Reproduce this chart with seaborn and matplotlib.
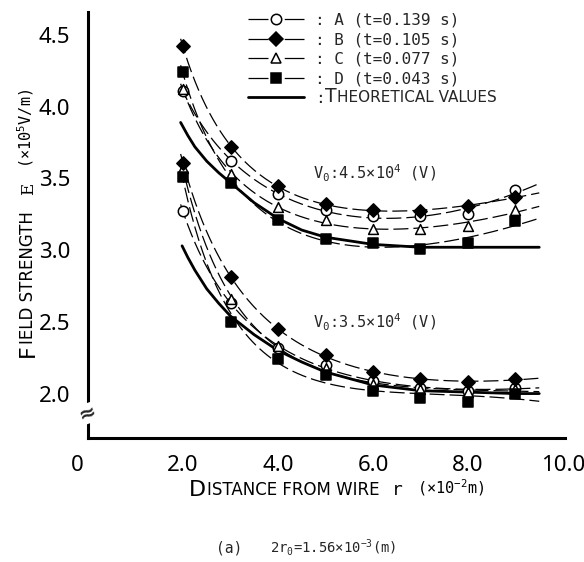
import numpy as np
import matplotlib
matplotlib.use("Agg")
import matplotlib.pyplot as plt
import seaborn as sns
from matplotlib.lines import Line2D
from matplotlib.transforms import ScaledTranslation

# ---- data -----------------------------------------------------------------
r = [2, 3, 4, 5, 6, 7, 8, 9]                      # distance from wire (x1e-2 m)

# V0 = 4.5e4 V
hi_A = [4.11, 3.62, 3.39, 3.28, 3.24, 3.24, 3.25, 3.42]
hi_B = [4.42, 3.72, 3.45, 3.32, 3.28, 3.27, 3.31, 3.37]
hi_C = [4.12, 3.53, 3.30, 3.21, 3.15, 3.15, 3.17, 3.28]
hi_D = [4.24, 3.47, 3.21, 3.08, 3.05, 3.01, 3.05, 3.20]

# V0 = 3.5e4 V
lo_A = [3.27, 2.63, 2.32, 2.20, 2.09, 2.04, 2.02, 2.04]
lo_B = [3.61, 2.81, 2.45, 2.27, 2.15, 2.10, 2.08, 2.10]
lo_C = [3.57, 2.66, 2.33, 2.18, 2.07, 2.03, 2.01, 2.03]
lo_D = [3.51, 2.50, 2.24, 2.13, 2.02, 1.97, 1.94, 2.00]

# theoretical field strength
th_r_hi = [1.95, 2.1, 2.25, 2.5, 2.75, 3.0, 3.5, 4.0, 4.5, 5.0, 6.0, 7.0, 8.0, 9.0, 9.5]
th_hi = [3.89, 3.80, 3.72, 3.62, 3.54, 3.47, 3.33, 3.22, 3.14, 3.09, 3.04, 3.02, 3.02, 3.02, 3.02]
th_r_lo = [1.98, 2.1, 2.25, 2.5, 2.75, 3.0, 3.5, 4.0, 4.5, 5.0, 6.0, 7.0, 8.0, 9.0, 9.5]
th_lo = [3.03, 2.95, 2.86, 2.73, 2.63, 2.54, 2.41, 2.30, 2.22, 2.15, 2.06, 2.02, 2.01, 2.00, 2.00]

series_names = ["A", "B", "C", "D"]
series_times = ["0.139", "0.105", "0.077", "0.043"]
x_tick_vals = [0, 2, 4, 6, 8, 10]
x_tick_text = ["0", "2.0", "4.0", "6.0", "8.0", "10.0"]
y_major_vals = [2.0, 3.0, 4.0]
y_major_text = ["2.0", "3.0", "4.0"]
y_minor_vals = [2.5, 3.5, 4.5]
y_minor_text = ["2.5", "3.5", "4.5"]

# ---- style ----------------------------------------------------------------
sns.set_theme(style="white")
NARROW = ["Noto Sans Condensed", "Liberation Sans Narrow", "Noto Sans", "DejaVu Sans"]
SANS = ["DejaVu Sans"]
MONO = ["DejaVu Sans Mono"]
SERIF = ["DejaVu Serif"]
plt.rcParams["font.family"] = SANS
plt.rcParams["mathtext.fontset"] = "custom"
plt.rcParams["mathtext.rm"] = "DejaVu Sans Mono"
plt.rcParams["mathtext.it"] = "DejaVu Sans Mono"
plt.rcParams["mathtext.bf"] = "DejaVu Sans Mono:bold"

marker_style = {
    "A": dict(marker="o", s=56, facecolor="white"),
    "B": dict(marker="D", s=46, facecolor="black"),
    "C": dict(marker="^", s=50, facecolor="white"),
    "D": dict(marker="s", s=48, facecolor="black"),
}
draw_order = ["A", "C", "B", "D"]
FIT_DASH = (0, (12, 4))

fig = plt.figure(figsize=(5.84, 5.62), dpi=100)
ax = fig.add_axes([0.1507, 0.2206, 0.8174, 0.758])
ax.set_xlim(0, 10.05)
ax.set_ylim(1.69, 4.66)


def fitted(x, y):
    """Least-squares smooth curve E(r) = a + b/r + c r + d r^2."""
    x = np.asarray(x, float)
    y = np.asarray(y, float)
    basis = lambda t: np.column_stack([np.ones_like(t), 1 / t, t, t ** 2])
    coef, *_ = np.linalg.lstsq(basis(x), y, rcond=None)
    grid = np.linspace(1.95, 9.5, 200)
    return grid, basis(grid) @ coef


groups = [
    dict(zip(series_names, [hi_A, hi_B, hi_C, hi_D])),
    dict(zip(series_names, [lo_A, lo_B, lo_C, lo_D])),
]

for grp in groups:
    for name in series_names:
        gx, gy = fitted(r, grp[name])
        sns.lineplot(x=gx, y=gy, ax=ax, color="black", lw=0.9,
                     linestyle=FIT_DASH, sort=False, estimator=None, zorder=2)

sns.lineplot(x=th_r_hi, y=th_hi, ax=ax, color="black", lw=2.0,
             sort=False, estimator=None, zorder=3)
sns.lineplot(x=th_r_lo, y=th_lo, ax=ax, color="black", lw=2.0,
             sort=False, estimator=None, zorder=3)

for grp in groups:
    for name in draw_order:
        st = marker_style[name]
        sns.scatterplot(x=r, y=grp[name], ax=ax, marker=st["marker"], s=st["s"],
                        color="black", facecolor=st["facecolor"],
                        edgecolor="black", linewidth=1.1, zorder=4)

# ---- axes -----------------------------------------------------------------
sns.despine(ax=ax)
for side in ("left", "bottom"):
    ax.spines[side].set_linewidth(2.2)
    ax.spines[side].set_color("black")

ax.set_xticks(x_tick_vals, labels=x_tick_text)
ax.set_yticks(y_major_vals, labels=y_major_text)
ax.set_yticks(y_minor_vals, labels=y_minor_text, minor=True)
ax.tick_params(axis="x", which="major", direction="in", length=7, width=1.8,
               pad=12, labelsize=16, color="black", labelcolor="black")
ax.tick_params(axis="y", which="major", direction="in", length=7.2, width=1.8,
               pad=13, labelsize=16, color="black", labelcolor="black")
ax.tick_params(axis="y", which="minor", direction="in", length=4.3, width=1.8,
               pad=13, labelsize=16, color="black", labelcolor="black")
for lbl in (ax.get_xticklabels() + ax.get_yticklabels()
            + ax.get_yticklabels(minor=True)):
    lbl.set_family(NARROW)
    lbl.set_stretch("condensed")

t0 = ax.xaxis.get_major_ticks()[0]
t0.tick1line.set_visible(False)
t0.label1.set_transform(t0.label1.get_transform()
                        + ScaledTranslation(-0.11, 0, fig.dpi_scale_trans))

# axis break on the y axis
ax.text(0, 0.058, "\u2248", transform=ax.transAxes, ha="center", va="center",
        fontsize=15, fontweight="bold", rotation=20, family=SANS,
        bbox=dict(fc="white", ec="none", pad=0), zorder=6, clip_on=False)


# ---- labels built from pieces (small caps) -----------------------------------
def chain(start, pieces, vertical=False):
    prev, prev_size = None, None
    for text, size, family, gap in pieces:
        kw = dict(fontsize=size, family=family, color="black",
                  annotation_clip=False)
        if vertical:
            kw.update(rotation=90, ha="right", va="bottom")
        else:
            kw.update(ha="left", va="bottom")
        if prev is None:
            prev = ax.annotate(text, xy=start, xycoords="figure pixels", **kw)
        else:
            shift = 0.22 * (prev_size - size)
            if vertical:
                prev = ax.annotate(text, xy=(1, 1), xycoords=prev,
                                   xytext=(-shift, gap),
                                   textcoords="offset points", **kw)
            else:
                prev = ax.annotate(text, xy=(1, 0), xycoords=prev,
                                   xytext=(gap, shift),
                                   textcoords="offset points", **kw)
        prev_size = size
    return prev


chain((189, 62), [("D", 16, SANS, 0),
                  ("ISTANCE FROM WIRE", 12, SANS, 0.5),
                  ("r", 13, MONO, 9),
                  ("(\u00d710$^{-2}$m)", 11, MONO, 10)])

chain((38, 205), [("F", 16, SANS, 0),
                  ("IELD STRENGTH", 12, SANS, 0.5),
                  ("E", 12, SERIF, 11),
                  ("(\u00d710$^{5}$V/m)", 11, MONO, 11)], vertical=True)

fig.text(216 / 584, 1 - 548 / 562, "(a)", family=MONO, fontsize=10.5,
         ha="left", va="center")
fig.text(270 / 584, 1 - 548 / 562, "2r$_0$=1.56\u00d710$^{-3}$(m)", family=MONO,
         fontsize=10, ha="left", va="center")

fig.text(313 / 584, 1 - 173 / 562, "V$_0$:4.5\u00d710$^4$ (V)", family=MONO,
         fontsize=11, ha="left", va="center")
fig.text(313 / 584, 1 - 322 / 562, "V$_0$:3.5\u00d710$^4$ (V)", family=MONO,
         fontsize=11, ha="left", va="center")

# ---- legend -----------------------------------------------------------------
handles = []
labels = []
for name, t in zip(series_names, series_times):
    st = marker_style[name]
    handles.append(Line2D([], [], color="black", lw=0.9,
                          linestyle=(0, (16, 13, 16, 100)),
                          marker=st["marker"], markersize=np.sqrt(st["s"]),
                          markerfacecolor=st["facecolor"],
                          markeredgecolor="black", markeredgewidth=1.1))
    labels.append(f": {name} (t={t} s)")
handles.append(Line2D([], [], color="black", lw=2.0))
labels.append(":")

leg = ax.legend(handles, labels, loc="upper left",
                bbox_to_anchor=(0.335, 0.998), bbox_transform=ax.transAxes,
                frameon=False, borderaxespad=0, borderpad=0,
                handlelength=3.5, handletextpad=0.7, labelspacing=0.28,
                numpoints=1, prop=dict(family=MONO, size=11.5))

fig.canvas.draw()
theo = leg.get_texts()[-1]
tt = ax.annotate("T", xy=(1, 0), xycoords=theo, xytext=(0.5, 0),
                 textcoords="offset points", fontsize=13.5, family=SANS,
                 ha="left", va="bottom", annotation_clip=False)
ax.annotate("HEORETICAL VALUES", xy=(1, 0), xycoords=tt, xytext=(0.3, 0.6),
            textcoords="offset points", fontsize=11, family=SANS,
            ha="left", va="bottom", annotation_clip=False)

fig.savefig("out.png", dpi=100)
